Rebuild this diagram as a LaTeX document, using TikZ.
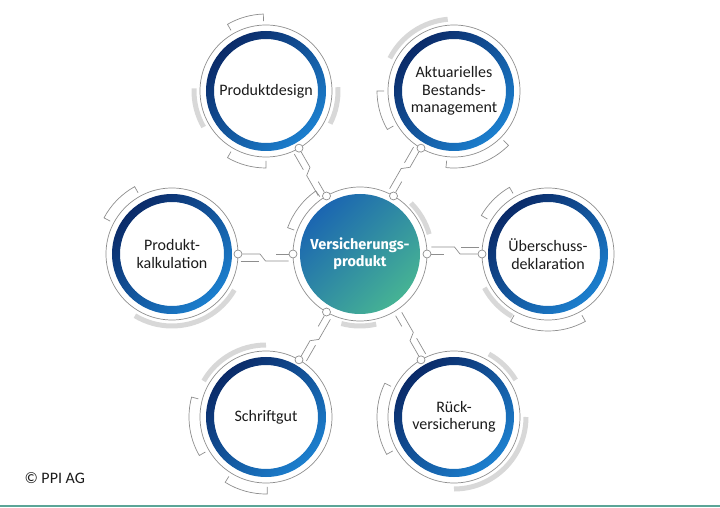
\documentclass[tikz,border=0pt]{standalone}
\usepackage{fontspec}
\setmainfont{Carlito}
\newfontfamily\hubfont{Fira Sans}
\usetikzlibrary{
        calc,
        positioning
    }
\definecolor{ringnavy}{HTML}{0A2A68}
\definecolor{ringblue}{HTML}{1C7FCE}
\definecolor{hubblue}{HTML}{1B66B1}
\definecolor{hubteal}{HTML}{46B394}
\definecolor{wiregrey}{HTML}{8E8E8E}
\definecolor{arcgrey}{HTML}{D8D8D8}
\definecolor{footteal}{HTML}{5BA597}
\definecolor{inktext}{HTML}{1B1B1B}
\tikzset{
    sat/.style={circle,minimum size=120pt,inner sep=0pt,align=center,on grid,
        text=inktext,font=\fontsize{16}{17.5}\selectfont},
    hub/.style={circle,minimum size=120pt,inner sep=0pt,align=center,
        top color=hubblue,bottom color=hubteal,shading angle=45,
        text=white,font=\hubfont\bfseries\fontsize{14.5}{17}\selectfont},
    wire/.style={draw=wiregrey,line width=0.7pt},
    greyarc/.style={draw=arcgrey,line width=5pt},
    pin/.style={circle,draw=wiregrey,fill=white,line width=0.7pt,minimum size=8pt,inner sep=0pt}
}

\begin{document}
\begin{tikzpicture}[x=1pt,y=1pt]
    \useasboundingbox (-360,-254) rectangle (360,254);
        \node[hub] (vp) at (0,0) {Versicherungs-\\produkt};
        \node[sat] (pd) [above left=163pt and 94pt of vp]  {Produktdesign};
        \node[sat] (ab) [above right=163pt and 94pt of vp] {Aktuarielles\\Bestands-\\management};
        \node[sat] (ue) [right=188pt of vp] {Überschuss-\\deklaration};
        \node[sat] (pk) [left=188pt of vp]  {Produkt-\\kalkulation};
        \node[sat] (sg) [below left=163pt and 94pt of vp]  {Schriftgut};
        \node[sat] (rv) [below right=163pt and 94pt of vp] {Rück-\\versicherung};

        % blue rings
        \foreach \n in {pd,ab,ue,pk,sg,rv}
            \shade[even odd rule,top color=ringnavy,bottom color=ringblue,shading angle=45]
                (\n.center) circle[radius=60] (\n.center) circle[radius=52];

        % thin rings
        \foreach \n/\r in {pd/66,ab/66,ue/66,pk/66,sg/66,rv/66,vp/67}
            \draw[wire] (\n.center) circle[radius=\r];

        % light grey arcs
        \foreach \n/\a/\b in {pd/178/210,pd/-27/3,ab/95/153,ue/208/240,pk/239/330,
                              sg/90/150,rv/31/61,rv/-90/0,vp/16/45,vp/-105/-77}
            \draw[greyarc] ([shift={(\a:72)}]\n.center) arc[start angle=\a,end angle=\b,radius=72];

        % brackets
        \foreach \n/\a/\b in {pd/92/120,pd/240/270,ab/-96/-45,ab/180/210,ue/120/150,ue/241/299,
                              pk/119/152,sg/165/210,sg/238/271,rv/154/209,vp/125/160}
            \draw[wire] ([shift={(\a:70)}]\n.center) -- ([shift={(\a:77)}]\n.center)
                arc[start angle=\a,end angle=\b,radius=77] -- ([shift={(\b:70)}]\n.center);

        % connectors
        \foreach \n/\t/\o in {pd/120/1,ab/60/1,ue/0/1,pk/180/1,sg/240/1,rv/300/0} {
            \node[pin] (\n-out) at ([shift={(\t+180:66)}]\n.center) {};
            \node[pin,draw opacity=\o,fill opacity=\o] (\n-in) at ([shift={(\t:67)}]vp.center) {};
            \draw[wire] (\n-out) -- ($(\n-out)!0.4!(\n-in)$)
                -- ($(\n-out)!0.5!(\n-in)!7pt!-90:(\n-in)$)
                -- ($(\n-out)!0.92!(\n-in)!7pt!-90:(\n-in)$);
            \draw[wire] ($(\n-out)!0.7!(\n-in)$) -- (\n-in);
            \draw[wire] ($(\n-out)!0.05!(\n-in)!7pt!-90:(\n-in)$)
                -- ($(\n-out)!0.38!(\n-in)!7pt!-90:(\n-in)$);
        }

        \node[anchor=west,text=inktext,font=\fontsize{16}{18}\selectfont] (copy) at (-339,-224) {© PPI AG};
        \draw[footteal,line width=1.5pt] (-360,-252) -- (360,-252);
\end{tikzpicture}
\end{document}
